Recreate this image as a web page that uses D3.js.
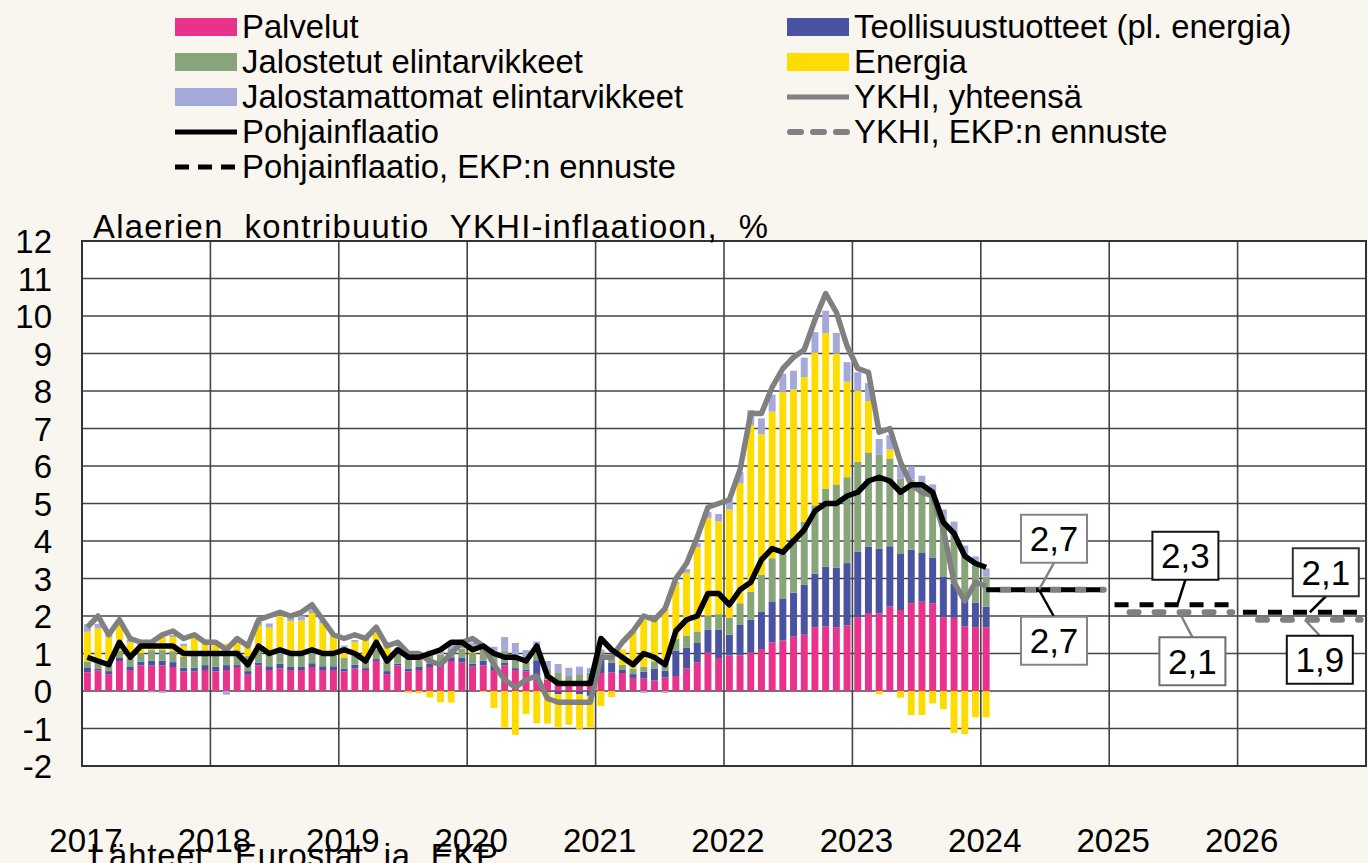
<!DOCTYPE html>
<html lang="fi">
<head>
<meta charset="utf-8">
<title>Alaerien kontribuutio YKHI-inflaatioon</title>
<script src="https://cdn.jsdelivr.net/npm/d3@7"></script>
<style>
  html, body { margin: 0; padding: 0; background: #f9f5ef; }
  svg { display: block; font-family: 'Liberation Sans', Arial, sans-serif; }
</style>
</head>
<body>
<div id="chart"></div>
<script>
// Monthly data, Jan 2017 - Jan 2024. Contributions in %-points.
const years = [2017, 2018, 2019, 2020, 2021, 2022, 2023, 2024, 2025, 2026];
const yTicks = [-2, -1, 0, 1, 2, 3, 4, 5, 6, 7, 8, 9, 10, 11, 12];

const services = [
  0.50, 0.55, 0.45, 0.80, 0.56, 0.68, 0.68, 0.68, 0.64, 0.52, 0.52, 0.56,
  0.52, 0.56, 0.64, 0.45, 0.68, 0.56, 0.60, 0.56, 0.56, 0.64, 0.56, 0.56,
  0.52, 0.60, 0.56, 0.80, 0.45, 0.68, 0.52, 0.56, 0.64, 0.64, 0.80, 0.76,
  0.65, 0.68, 0.56, 0.68, 0.56, 0.52, 0.40, 0.30, 0.22, 0.18, 0.26, 0.30,
  0.48, 0.50, 0.48, 0.35, 0.33, 0.28, 0.36, 0.40, 0.60, 0.76, 1.02, 0.88,
  0.95, 0.95, 1.02, 1.12, 1.30, 1.35, 1.45, 1.50, 1.70, 1.72, 1.70, 1.75,
  1.97, 2.08, 2.07, 2.25, 2.16, 2.34, 2.38, 2.34, 1.97, 1.95, 1.72, 1.70,
  1.70
];
const industrial = [
  0.13, 0.05, 0.08, 0.08, 0.08, 0.10, 0.13, 0.13, 0.13, 0.10, 0.10, 0.13,
  0.13, 0.13, 0.05, 0.08, 0.08, 0.10, 0.13, 0.08, 0.08, 0.10, 0.10, 0.10,
  0.08, 0.10, 0.05, 0.05, 0.08, 0.05, 0.08, 0.08, 0.08, 0.08, 0.10, 0.13,
  0.08, 0.13, 0.13, 0.08, 0.05, 0.05, 0.42, -0.03, -0.08, -0.03, -0.08, -0.13,
  0.39, 0.26, 0.08, 0.10, 0.18, 0.31, 0.18, 0.68, 0.55, 0.52, 0.62, 0.75,
  0.55, 0.81, 0.88, 0.99, 1.09, 1.12, 1.17, 1.33, 1.43, 1.59, 1.59, 1.66,
  1.74, 1.77, 1.72, 1.61, 1.51, 1.43, 1.30, 1.22, 1.07, 0.91, 0.75, 0.65,
  0.55
];
const processedFood = [
  0.16, 0.16, 0.19, 0.19, 0.22, 0.23, 0.28, 0.28, 0.29, 0.29, 0.34, 0.33,
  0.39, 0.37, 0.40, 0.40, 0.40, 0.42, 0.39, 0.36, 0.34, 0.33, 0.29, 0.28,
  0.29, 0.26, 0.23, 0.26, 0.28, 0.28, 0.25, 0.25, 0.25, 0.25, 0.22, 0.23,
  0.28, 0.33, 0.29, 0.31, 0.29, 0.22, 0.25, 0.28, 0.28, 0.22, 0.19, 0.19,
  0.19, 0.16, 0.14, 0.14, 0.14, 0.20, 0.26, 0.31, 0.33, 0.31, 0.37, 0.42,
  0.46, 0.58, 0.75, 0.99, 1.15, 1.31, 1.46, 1.68, 1.82, 2.08, 2.22, 2.29,
  2.40, 2.51, 2.51, 2.34, 2.00, 1.87, 1.73, 1.65, 1.50, 1.36, 1.14, 0.99,
  0.80
];
const energy = [
  0.79, 0.91, 0.73, 0.74, 0.44, 0.19, 0.22, 0.39, 0.38, 0.29, 0.46, 0.28,
  0.21, 0.20, 0.19, 0.25, 0.58, 0.61, 0.90, 0.87, 0.90, 1.01, 0.86, 0.52,
  0.26, 0.35, 0.51, 0.51, 0.36, 0.02, -0.05, -0.06, -0.17, -0.30, -0.31, 0.02,
  0.18, -0.03, -0.45, -0.98, -1.17, -0.61, -0.86, -0.84, -0.89, -0.87, -0.93, -0.85,
  -0.40, -0.16, 0.41, 0.99, 1.24, 1.20, 1.36, 1.47, 1.67, 2.25, 2.61, 2.47,
  2.88, 3.20, 4.44, 3.75, 3.91, 4.20, 3.96, 3.86, 4.07, 4.15, 3.49, 2.55,
  1.89, 1.37, -0.09, 0.24, -0.18, -0.64, -0.64, -0.33, -0.48, -1.12, -1.15, -0.70,
  -0.70
];
const unprocessedFood = [
  0.20, 0.12, 0.10, 0.08, 0.07, 0.06, -0.04, -0.05, 0.05, 0.06, 0.06, 0.07,
  0.05, -0.10, 0.08, 0.05, 0.10, 0.11, 0.12, 0.12, 0.13, 0.10, 0.07, 0.06,
  0.06, 0.05, 0.05, 0.08, 0.08, 0.10, 0.12, 0.14, 0.11, 0.09, 0.11, 0.12,
  0.10, 0.10, 0.20, 0.37, 0.38, 0.30, 0.25, 0.22, 0.22, 0.22, 0.20, 0.12,
  0.05, 0.02, 0.00, 0.00, -0.05, 0.02, -0.05, 0.05, 0.10, 0.10, 0.15, 0.20,
  0.25, 0.30, 0.40, 0.42, 0.45, 0.48, 0.50, 0.52, 0.55, 0.60, 0.55, 0.52,
  0.50, 0.48, 0.42, 0.38, 0.35, 0.35, 0.33, 0.30, 0.30, 0.30, 0.27, 0.25,
  0.22
];
const hicp = [
  1.7, 2.0, 1.5, 1.9, 1.4, 1.3, 1.3, 1.5, 1.6, 1.4, 1.5, 1.3,
  1.3, 1.1, 1.4, 1.2, 1.9, 2.0, 2.1, 2.0, 2.1, 2.3, 1.9, 1.5,
  1.4, 1.5, 1.4, 1.7, 1.2, 1.3, 1.0, 1.0, 0.8, 0.7, 1.0, 1.3,
  1.4, 1.2, 0.7, 0.3, 0.1, 0.3, 0.4, -0.2, -0.3, -0.3, -0.3, -0.3,
  0.9, 0.9, 1.3, 1.6, 2.0, 1.9, 2.2, 3.0, 3.4, 4.1, 4.9, 5.0,
  5.1, 5.9, 7.4, 7.4, 8.1, 8.6, 8.9, 9.1, 9.9, 10.6, 10.1, 9.2,
  8.6, 8.5, 6.9, 7.0, 6.1, 5.5, 5.3, 5.2, 4.3, 2.9, 2.4, 2.9,
  2.8
];
const core = [
  0.9, 0.8, 0.7, 1.3, 0.9, 1.2, 1.2, 1.2, 1.2, 1.0, 1.0, 1.0,
  1.0, 1.0, 1.0, 0.7, 1.2, 1.0, 1.1, 1.0, 1.0, 1.1, 1.0, 1.0,
  1.1, 1.0, 0.8, 1.3, 0.8, 1.1, 0.9, 0.9, 1.0, 1.1, 1.3, 1.3,
  1.1, 1.2, 1.0, 0.9, 0.9, 0.8, 1.2, 0.4, 0.2, 0.2, 0.2, 0.2,
  1.4, 1.1, 0.9, 0.7, 1.0, 0.9, 0.7, 1.6, 1.9, 2.0, 2.6, 2.6,
  2.3, 2.7, 2.9, 3.5, 3.8, 3.7, 4.0, 4.3, 4.8, 5.0, 5.0, 5.2,
  5.3, 5.6, 5.7, 5.6, 5.3, 5.5, 5.5, 5.3, 4.5, 4.2, 3.6, 3.4,
  3.3
];

// ECB (December) projections, annual averages
const forecastYears = [2024, 2025, 2026];
const hicpForecast = [2.7, 2.1, 1.9];
const coreForecast = [2.7, 2.3, 2.1];

const legendLeft = ['Palvelut', 'Jalostetut elintarvikkeet',
  'Jalostamattomat elintarvikkeet', 'Pohjainflaatio', 'Pohjainflaatio, EKP:n ennuste'];
const legendRight = ['Teollisuustuotteet (pl. energia)', 'Energia',
  'YKHI, yhteensä', 'YKHI, EKP:n ennuste'];
const titleText = 'Alaerien  kontribuutio  YKHI-inflaatioon,  %';
const sourceText = 'Lähteet:  Eurostat  ja  EKP';

const chart = (() => {
  const props = {
    width: 1368,
    height: 863,
    margin: {top: 241, right: 2, bottom: 97, left: 82},
    colors: {
      services: '#e8328b',
      industrial: '#4a53a1',
      processed: '#88a47a',
      energy: '#ffdc00',
      unprocessed: '#a4a9d9',
      hicp: '#808080',
      core: '#000000'
    },
    font: 32.8
  };
  let svg, x, y, yearX;

  return {
    /**
     * Build svg and scales
     * @param {Node} el container
     */
    create(el) {
      const {width, height, margin} = props;
      svg = d3.select(el).append('svg')
        .attr('width', width)
        .attr('height', height);
      svg.append('rect').attr('width', width).attr('height', height).attr('fill', '#f9f5ef');

      x = d3.scaleBand()
        .domain(d3.range(years.length * 12))
        .range([margin.left, width - margin.right])
        .paddingInner(0.35)
        .paddingOuter(0.175);
      yearX = d3.scaleLinear()
        .domain([years[0], years[years.length - 1] + 1])
        .range([margin.left, width - margin.right]);
      y = d3.scaleLinear().domain([-2, 12]).range([height - margin.bottom, margin.top]);

      this._drawGrid();
      this._drawBars();
      this._drawLines();
      this._drawForecast();
      this._drawAxes();
      this._drawLegend();
    },

    _drawGrid() {
      const {width, height, margin} = props;
      svg.append('rect')
        .attr('x', margin.left).attr('y', margin.top)
        .attr('width', width - margin.right - margin.left)
        .attr('height', height - margin.bottom - margin.top)
        .attr('fill', '#ffffff');

      svg.append('g').selectAll('line')
        .data(yTicks)
        .enter().append('line')
        .attr('x1', margin.left).attr('x2', width - margin.right)
        .attr('y1', d => y(d)).attr('y2', d => y(d))
        .attr('stroke', '#444').attr('stroke-width', 1.6);

      svg.append('g').selectAll('line')
        .data(years)
        .enter().append('line')
        .attr('x1', d => yearX(d)).attr('x2', d => yearX(d))
        .attr('y1', margin.top).attr('y2', height - margin.bottom)
        .attr('stroke', '#444').attr('stroke-width', 1.6);

      svg.append('rect')
        .attr('x', margin.left).attr('y', margin.top)
        .attr('width', width - margin.right - margin.left)
        .attr('height', height - margin.bottom - margin.top)
        .attr('fill', 'none').attr('stroke', '#333').attr('stroke-width', 2);
    },

    _drawBars() {
      const {colors} = props;
      const rows = services.map((s, i) => ({
        i, services: s, industrial: industrial[i], processed: processedFood[i],
        energy: energy[i], unprocessed: unprocessedFood[i]
      }));
      const keys = ['services', 'industrial', 'processed', 'energy', 'unprocessed'];
      const series = d3.stack().keys(keys).offset(d3.stackOffsetDiverging)(rows);

      svg.append('g').selectAll('g')
        .data(series)
        .enter().append('g')
        .attr('fill', d => colors[d.key])
        .selectAll('rect')
        .data(d => d)
        .enter().append('rect')
        .attr('x', d => x(d.data.i))
        .attr('width', x.bandwidth())
        .attr('y', d => y(Math.max(d[0], d[1])))
        .attr('height', d => Math.abs(y(d[0]) - y(d[1])));
    },

    _drawLines() {
      const {colors} = props;
      const line = d3.line()
        .x((d, i) => x(i) + x.bandwidth() / 2)
        .y(d => y(d));
      [['hicp', hicp], ['core', core]].forEach(([key, values]) => {
        svg.append('path')
          .datum(values)
          .attr('d', line)
          .attr('fill', 'none')
          .attr('stroke', colors[key])
          .attr('stroke-width', 5.5)
          .attr('stroke-linejoin', 'round');
      });
    },

    _drawForecast() {
      const {colors} = props;
      const bw = x.bandwidth() / 2;
      const seg = yr => {
        const m0 = (yr - years[0]) * 12;
        return [x(m0) + bw, x(m0 + 11) + bw];
      };
      const g = svg.append('g');

      g.selectAll('.hicp-f')
        .data(forecastYears)
        .enter().append('line')
        .attr('x1', d => seg(d)[0]).attr('x2', d => seg(d)[1])
        .attr('y1', (d, i) => y(hicpForecast[i])).attr('y2', (d, i) => y(hicpForecast[i]))
        .attr('stroke', colors.hicp).attr('stroke-width', 6)
        .attr('stroke-linecap', 'round')
        .attr('stroke-dasharray', '9,16').attr('stroke-dashoffset', -15);

      g.selectAll('.core-f')
        .data(forecastYears)
        .enter().append('line')
        .attr('x1', d => seg(d)[0]).attr('x2', d => seg(d)[1])
        .attr('y1', (d, i) => y(coreForecast[i])).attr('y2', (d, i) => y(coreForecast[i]))
        .attr('stroke', colors.core).attr('stroke-width', 5)
        .attr('stroke-dasharray', '14,11');

      // value labels: box offset from segment middle, leader end on the line
      const labels = [
        {vals: hicpForecast, k: 0, key: 'hicp', dx: 9, dy: -51, lx: -6, border: '#8c7f8c'},
        {vals: coreForecast, k: 0, key: 'core', dx: 9, dy: 51, lx: -6, border: '#8c7f8c'},
        {vals: coreForecast, k: 1, key: 'core', dx: 12, dy: -49, lx: 4, border: '#111'},
        {vals: hicpForecast, k: 1, key: 'hicp', dx: 19, dy: 49, lx: 6, border: '#6e6e6e'},
        {vals: coreForecast, k: 2, key: 'core', dx: 24, dy: -40, lx: 8, border: '#333'},
        {vals: hicpForecast, k: 2, key: 'hicp', dx: 18, dy: 40, lx: 3, border: '#111'}
      ];
      const bw2 = 33, bh2 = 24;
      labels.forEach(l => {
        const s = seg(forecastYears[l.k]);
        const mid = (s[0] + s[1]) / 2;
        const vy = y(l.vals[l.k]);
        const cx = mid + l.dx, cy = vy + l.dy;
        const edge = l.dy < 0 ? cy + bh2 : cy - bh2;
        g.append('line')
          .attr('x1', cx).attr('y1', edge)
          .attr('x2', mid + l.lx).attr('y2', vy)
          .attr('stroke', colors[l.key]).attr('stroke-width', 2.5);
        g.append('rect')
          .attr('x', cx - bw2).attr('y', cy - bh2)
          .attr('width', bw2 * 2).attr('height', bh2 * 2)
          .attr('fill', '#fff').attr('stroke', l.border).attr('stroke-width', 2);
        g.append('text')
          .attr('x', cx).attr('y', cy + 12.5)
          .attr('text-anchor', 'middle')
          .attr('font-size', 35)
          .text(d3.format('.1f')(l.vals[l.k]).replace('.', ','));
      });
    },

    _drawAxes() {
      const {height, margin, font} = props;
      svg.append('g').selectAll('text')
        .data(yTicks)
        .enter().append('text')
        .attr('x', 52)
        .attr('y', d => y(d) + 12)
        .attr('text-anchor', 'end')
        .attr('font-size', 33)
        .text(d => d);

      svg.append('g').selectAll('text')
        .data(years)
        .enter().append('text')
        .attr('x', d => yearX(d) + 4)
        .attr('y', height - 11)
        .attr('text-anchor', 'middle')
        .attr('font-size', 33)
        .text(d => d);

      svg.append('text')
        .attr('x', 93).attr('y', margin.top - 3)
        .attr('font-size', font)
        .attr('textLength', 675)
        .attr('lengthAdjust', 'spacing')
        .style('white-space', 'pre')
        .text(titleText);

      svg.append('text')
        .attr('x', 90).attr('y', height + 4)
        .attr('font-size', font)
        .attr('textLength', 408)
        .attr('lengthAdjust', 'spacing')
        .style('white-space', 'pre')
        .text(sourceText);
    },

    _drawLegend() {
      const {colors, font} = props;
      const rowY = i => 27 + i * 35;
      const left = [
        {type: 'rect', color: colors.services},
        {type: 'rect', color: colors.processed},
        {type: 'rect', color: colors.unprocessed},
        {type: 'line', color: colors.core},
        {type: 'dash', color: colors.core}
      ];
      const right = [
        {type: 'rect', color: colors.industrial},
        {type: 'rect', color: colors.energy},
        {type: 'line', color: colors.hicp},
        {type: 'dash', color: colors.hicp, round: true}
      ];
      const drawCol = (items, names, x0) => {
        const g = svg.append('g');
        items.forEach((it, i) => {
          const cy = rowY(i);
          if (it.type === 'rect') {
            g.append('rect')
              .attr('x', x0).attr('y', cy - 9)
              .attr('width', 62).attr('height', 18)
              .attr('fill', it.color);
          } else {
            g.append('line')
              .attr('x1', x0 + (it.round ? 3 : 0)).attr('x2', x0 + 62)
              .attr('y1', cy).attr('y2', cy)
              .attr('stroke', it.color)
              .attr('stroke-width', it.round ? 6 : 5)
              .attr('stroke-linecap', it.round ? 'round' : 'butt')
              .attr('stroke-dasharray', it.type === 'dash' ? (it.round ? '11,12' : '14,9') : null);
          }
          g.append('text')
            .attr('x', x0 + 67).attr('y', cy + 11)
            .attr('font-size', font)
            .text(names[i]);
        });
      };
      drawCol(left, legendLeft, 175);
      drawCol(right, legendRight, 787);
    }
  };
})();

chart.create(document.getElementById('chart'));
</script>
</body>
</html>
